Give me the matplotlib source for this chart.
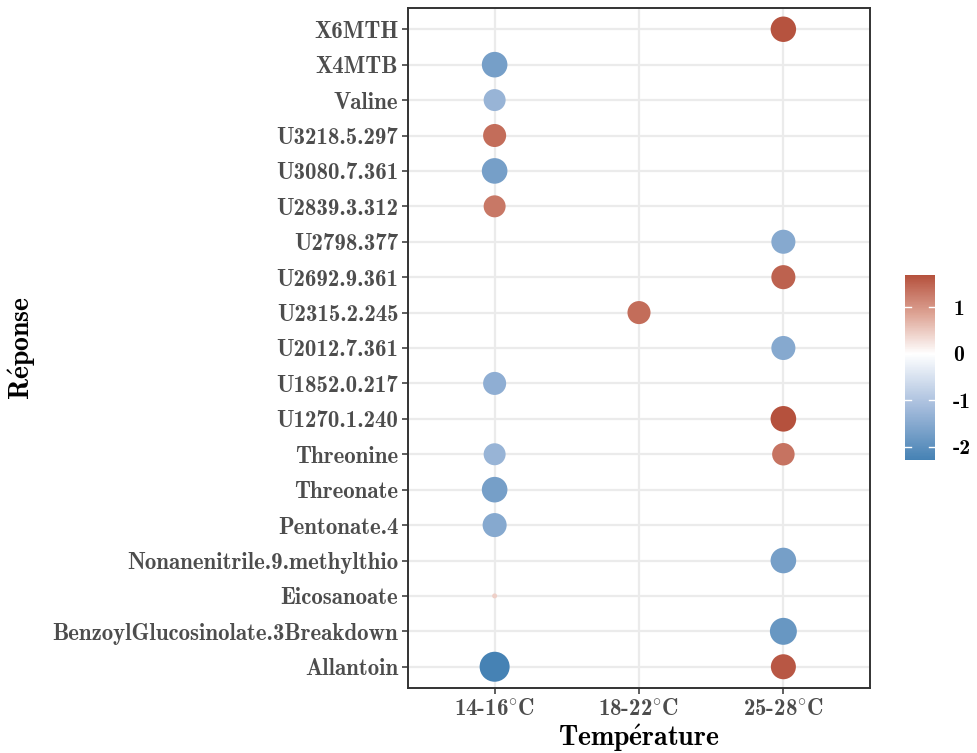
import matplotlib.pyplot as plt
import numpy as np
from matplotlib.colors import LinearSegmentedColormap, Normalize

plt.rcParams['font.family'] = ['cmb10', 'DejaVu Serif']
plt.rcParams['mathtext.fontset'] = 'cm'
plt.rcParams['axes.unicode_minus'] = False

responses = ["Allantoin", "BenzoylGlucosinolate.3Breakdown", "Eicosanoate",
             "Nonanenitrile.9.methylthio", "Pentonate.4", "Threonate", "Threonine",
             "U1270.1.240", "U1852.0.217", "U2012.7.361", "U2315.2.245",
             "U2692.9.361", "U2798.377", "U2839.3.312", "U3080.7.361",
             "U3218.5.297", "Valine", "X4MTB", "X6MTH"]
temps = ["14-16°C", "18-22°C", "25-28°C"]
temp_labels = ["14-16$^{\\circ}$C", "18-22$^{\\circ}$C", "25-28$^{\\circ}$C"]

# one entry per point
pt_resp = ["Allantoin", "Allantoin", "BenzoylGlucosinolate.3Breakdown", "Eicosanoate",
           "Nonanenitrile.9.methylthio", "Pentonate.4", "Threonate", "Threonine",
           "Threonine", "U1270.1.240", "U1852.0.217", "U2012.7.361", "U2315.2.245",
           "U2692.9.361", "U2798.377", "U2839.3.312", "U3080.7.361", "U3218.5.297",
           "Valine", "X4MTB", "X6MTH"]
pt_temp = ["14-16°C", "25-28°C", "25-28°C", "14-16°C",
           "25-28°C", "14-16°C", "14-16°C", "14-16°C",
           "25-28°C", "25-28°C", "14-16°C", "25-28°C", "18-22°C",
           "25-28°C", "25-28°C", "14-16°C", "14-16°C", "14-16°C",
           "14-16°C", "14-16°C", "25-28°C"]
pt_val = [-2.29, 1.63, -1.87, 0.45,
          -1.70, -1.52, -1.70, -1.30,
          1.35, 1.70, -1.41, -1.52, 1.41,
          1.52, -1.52, 1.30, -1.70, 1.41,
          -1.30, -1.70, 1.68]

x = np.array([temps.index(t) for t in pt_temp])
y = np.array([responses.index(r) for r in pt_resp])
v = np.array(pt_val)

# size scale like ggplot scale_size (area), range 1..6
a = np.abs(v)
t = (a - a.min()) / (a.max() - a.min())
diam_px = 5 + 25 * np.sqrt(t)
sizes = (diam_px * 0.72) ** 2

# diverging colours, white at zero, linear value axis
vmin, vmax = v.min(), v.max()
f0 = -vmin / (vmax - vmin)
cmap = LinearSegmentedColormap.from_list(
    "rb", [(0.0, "#4682B4"), (f0 / 2, "#A5BCDC"), (f0, "#FFFFFF"),
           (f0 + (1 - f0) / 2, "#DEA596"), (1.0, "#B5513D")])
norm = Normalize(vmin=vmin, vmax=vmax)

fig = plt.figure(figsize=(9.77, 7.53), dpi=100)
ax = fig.add_axes([408/977, 1-688/753, 462/977, 680/753])

sc = ax.scatter(x, y, s=sizes, c=v, cmap=cmap, norm=norm, linewidths=0, zorder=3)

ax.set_xlim(-0.6, 2.6)
ax.set_ylim(-0.6, len(responses) - 0.4)
ax.set_xticks(range(len(temps)))
ax.set_xticklabels(temp_labels)
ax.set_yticks(range(len(responses)))
ax.set_yticklabels(responses)
ax.grid(True, color="#EBEBEB", linewidth=1.6, zorder=0)
ax.set_axisbelow(True)
for s in ax.spines.values():
    s.set_color("#333333")
    s.set_linewidth(1.4)
ax.tick_params(length=4, width=1.1, color="#333333", labelcolor="#4D4D4D",
               labelsize=16.5, pad=3)

fig.text(639/977, 1-738/753, r"$\mathbf{Temp\acute{e}rature}$", ha="center", va="center",
         fontsize=20, color="black")
fig.text(22/977, 1-348/753, r"$\mathbf{R\acute{e}ponse}$", ha="center", va="center",
         fontsize=20, rotation=90, color="black")

cax = fig.add_axes([905/977, 1-460/753, 30/977, 185/753])
cb = fig.colorbar(sc, cax=cax)
cb.outline.set_visible(False)
cb.set_ticks([-2, -1, 0, 1])
cb.set_ticklabels(["-2", "-1", "0", "1"])
cax.tick_params(length=0, labelsize=15.5, pad=13, labelcolor="black")
for tv in [-2, -1, 0, 1]:
    cax.plot([0, 0.2], [tv, tv], color="white", lw=1, transform=cax.get_yaxis_transform())
    cax.plot([0.8, 1], [tv, tv], color="white", lw=1, transform=cax.get_yaxis_transform())

fig.savefig("out.png", dpi=100)
